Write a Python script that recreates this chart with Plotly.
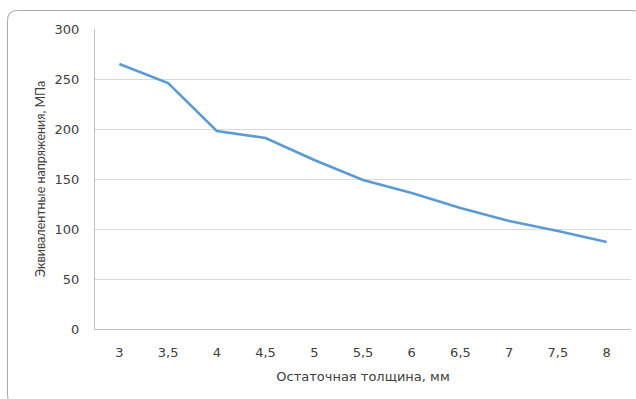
import plotly.graph_objects as go

categories = ["3", "3,5", "4", "4,5", "5", "5,5", "6", "6,5", "7", "7,5", "8"]
stress = [265, 246, 198, 191, 169, 149, 136, 121, 108, 98, 87]
y_ticks = [0, 50, 100, 150, 200, 250, 300]

W, H = 636, 399
L, R, T, B = 95, 5, 29, 70
pw, ph = W - L - R, H - T - B

def px_to_paper_x(px):
    return (px - L) / pw

def px_to_paper_y(py):
    return (H - B - py) / ph

fig = go.Figure()
fig.add_trace(go.Scatter(x=categories, y=stress, mode="lines",
                         line=dict(color="#5b9bd5", width=2.5), showlegend=False,
                         hoverinfo="x+y"))

# rounded chart border; right and bottom edges fall outside the crop
x0, x1 = 7.5, 642
y0, y1 = 10.5, 405
r = 10
def P(x, y):
    return f"{px_to_paper_x(x):.5f},{px_to_paper_y(y):.5f}"
path = (f"M {P(x1, y0 + r)} Q {P(x1, y0)} {P(x1 - r, y0)} L {P(x0 + r, y0)} "
        f"Q {P(x0, y0)} {P(x0, y0 + r)} L {P(x0, y1 - r)} Q {P(x0, y1)} {P(x0 + r, y1)}")
fig.add_shape(type="path", path=path, xref="paper", yref="paper",
              line=dict(color="#a6a6a6", width=1), fillcolor="rgba(0,0,0,0)",
              layer="below")

txt = "#404040"
fig.update_layout(
    width=W, height=H,
    margin=dict(l=L, r=R, t=T, b=B, autoexpand=False),
    paper_bgcolor="white", plot_bgcolor="white",
    font=dict(family="DejaVu Sans, sans-serif", size=13, color=txt),
    xaxis=dict(type="category", showgrid=False, showline=True, linecolor="#bfbfbf",
               linewidth=1, ticks="", automargin=False, ticklabelstandoff=11,
               tickfont=dict(family="DejaVu Sans", size=13, color=txt),
               title=dict(text="Остаточная толщина, мм",
                          font=dict(family="DejaVu Sans", size=13, color=txt), standoff=13),
               range=[-0.5, len(categories) - 0.5], fixedrange=True),
    yaxis=dict(range=[0, 300], tickvals=y_ticks, showgrid=True, gridcolor="#d9d9d9",
               gridwidth=1, showline=True, linecolor="#bfbfbf", linewidth=1,
               zeroline=False, ticks="", ticklabelstandoff=12, automargin=False,
               tickfont=dict(family="DejaVu Sans", size=13, color=txt),
               title=dict(text="Эквивалентные напряжения, МПа",
                          font=dict(family="Lato", size=12.5, color=txt), standoff=6),
               fixedrange=True),
)

fig.write_html(
    "out.html",
    config={"displayModeBar": False},
    post_script=("document.documentElement.style.overflow='hidden';"
                 "document.body.style.overflow='hidden';"
                 "document.body.style.margin='0';"),
)
